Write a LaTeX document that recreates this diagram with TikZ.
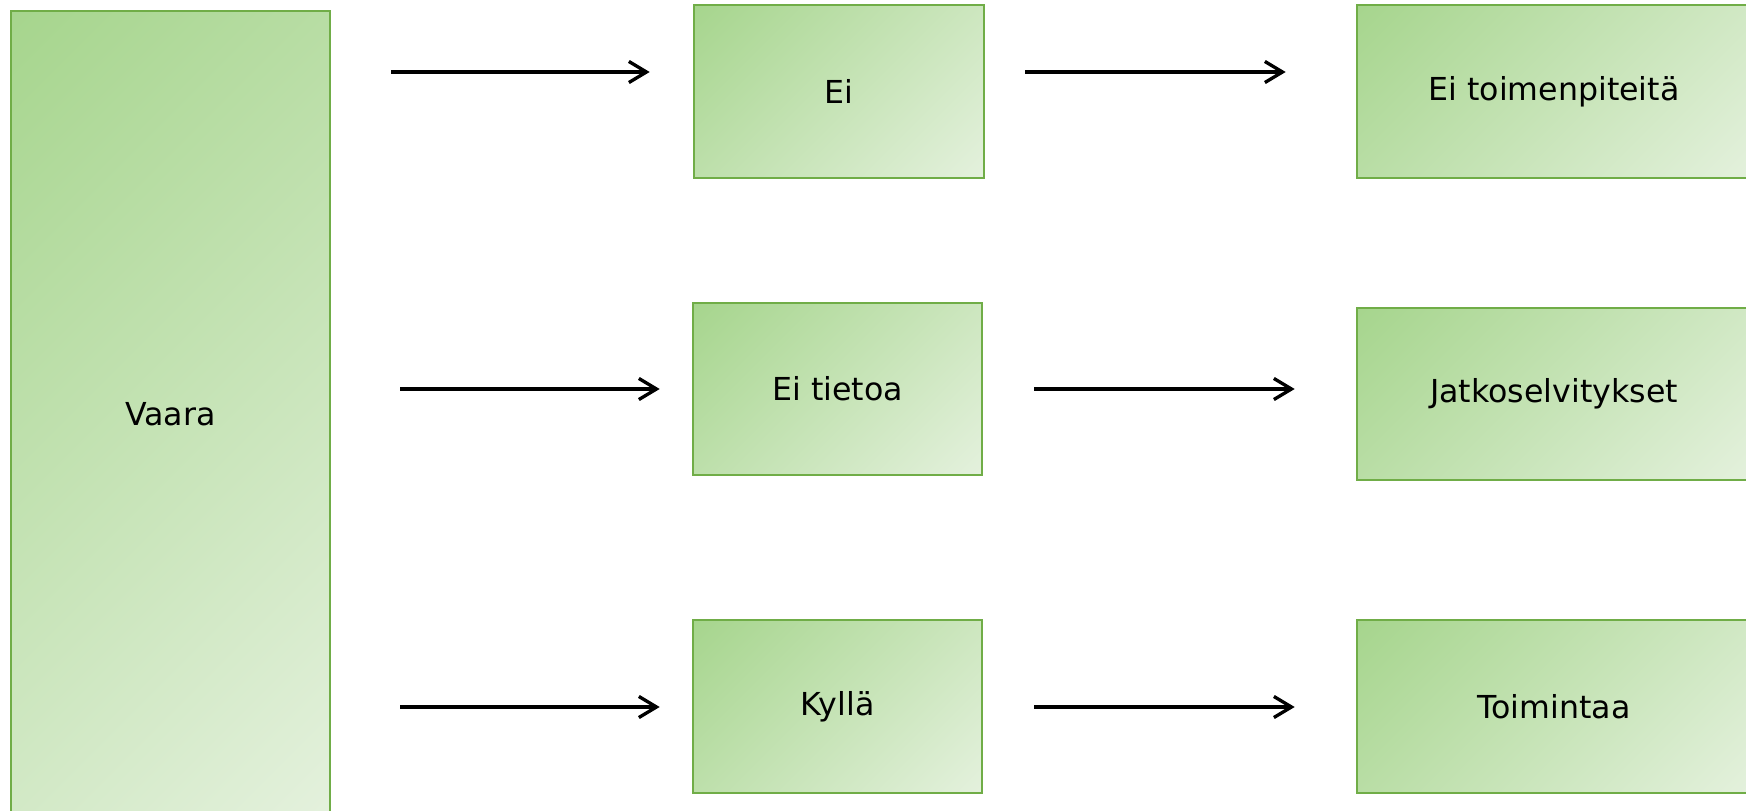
\documentclass[tikz,border=0pt]{standalone}
\usepackage{fontspec}
\setmainfont{DejaVu Sans}
\usetikzlibrary{arrows.meta}
\definecolor{boxline}{RGB}{112,173,71}
\definecolor{boxdark}{RGB}{166,213,141}
\definecolor{boxlight}{RGB}{228,241,221}
\pgfdeclareverticalshading{boxfade}{100bp}{color(0bp)=(boxlight); color(14.6bp)=(boxlight); color(85.4bp)=(boxdark); color(100bp)=(boxdark)}
\tikzset{
 box/.style={draw=boxline,line width=0.75pt,shading=boxfade,shading angle=45,inner sep=0pt,font=\fontsize{9pt}{11pt}\selectfont},
 arr/.style={line width=0.95pt,-{Straight Barb[length=5pt,width=6pt,line width=0.95pt]}}
}
\begin{document}
\begin{tikzpicture}
 \useasboundingbox (0,0) rectangle (17.46,8.11);
 \node[box,minimum width=3.19cm,minimum height=8.06cm] (vaara) at (1.705,3.97) {Vaara};
 \node[box,minimum width=2.90cm,minimum height=1.73cm] (ei) at (8.39,7.195) {Ei};
 \node[box,minimum width=2.89cm,minimum height=1.72cm] (eitieto) at (8.375,4.22) {Ei tietoa};
 \node[box,minimum width=2.89cm,minimum height=1.73cm] (kylla) at (8.375,1.045) {Kyllä};
 \node[box,minimum width=3.94cm,minimum height=1.73cm] (eitoim) at (15.54,7.195) {Ei toimenpiteitä};
 \node[box,minimum width=3.94cm,minimum height=1.72cm] (jatko) at (15.54,4.17) {Jatkoselvitykset};
 \node[box,minimum width=3.94cm,minimum height=1.73cm] (toim) at (15.54,1.045) {Toimintaa};
 % arrow rows
 \coordinate (r1) at (0,7.39);
 \coordinate (r2) at (0,4.22);
 \coordinate (r3) at (0,1.04);
 \draw[arr] ([xshift=0.60cm]vaara.east |- r1) -- ([xshift=-0.43cm]ei.west |- r1);
 \draw[arr] ([xshift=0.40cm]ei.east |- r1) -- ([xshift=-0.70cm]eitoim.west |- r1);
 \draw[arr] ([xshift=0.69cm]vaara.east |- r2) -- ([xshift=-0.32cm]eitieto.west |- r2);
 \draw[arr] ([xshift=0.51cm]eitieto.east |- r2) -- ([xshift=-0.61cm]jatko.west |- r2);
 \draw[arr] ([xshift=0.69cm]vaara.east |- r3) -- ([xshift=-0.32cm]kylla.west |- r3);
 \draw[arr] ([xshift=0.51cm]kylla.east |- r3) -- ([xshift=-0.61cm]toim.west |- r3);
\end{tikzpicture}
\end{document}
